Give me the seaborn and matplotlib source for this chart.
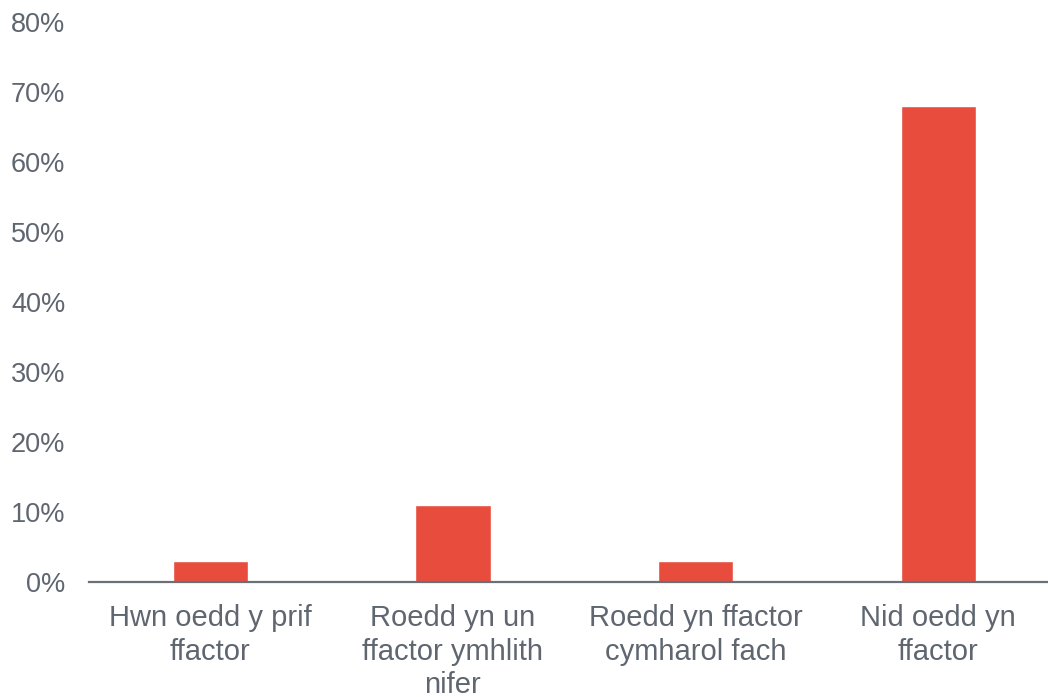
import matplotlib
matplotlib.use("Agg")
import matplotlib.pyplot as plt
import seaborn as sns
import pandas as pd

# Data
categories = [
    "Hwn oedd y prif\nffactor",
    "Roedd yn un\nffactor ymhlith\nnifer",
    "Roedd yn ffactor\ncymharol fach",
    "Nid oedd yn\nffactor",
]
values = [3, 11, 3, 68]
y_ticks = [0, 10, 20, 30, 40, 50, 60, 70, 80]
y_tick_labels = [f"{t}%" for t in y_ticks]

sns.set_style("white")
plt.rcParams['font.family'] = ['Liberation Sans', 'DejaVu Sans']

text_col = "#5f6670"
bar_col = "#e84c3d"

df = pd.DataFrame({"cat": categories, "val": values})

W, H = 1048, 697
fig = plt.figure(figsize=(W / 100, H / 100), dpi=100)
left, right = 89, 1048
top, bottom = 22, 582
ax = fig.add_axes([left / W, 1 - bottom / H, (right - left) / W, (bottom - top) / H])

sns.barplot(data=df, x="cat", y="val", color=bar_col, width=0.31,
            saturation=1, ax=ax)

ax.set_ylim(0, 80)
ax.set_xlim(-0.5, 3.5 - (1059.5 - 1048) / 243)
ax.set_yticks(y_ticks)
ax.set_yticklabels(y_tick_labels, fontsize=19.5, color=text_col)
ax.tick_params(axis="y", length=0, pad=17)
ax.tick_params(axis="x", length=0, pad=16)
for lab in ax.get_xticklabels():
    lab.set_fontsize(21)
    lab.set_color(text_col)
    lab.set_linespacing(1.24)

ax.set_xlabel("")
ax.set_ylabel("")
for s in ["left", "right", "top"]:
    ax.spines[s].set_visible(False)
ax.spines["bottom"].set_color("#6b7077")
ax.spines["bottom"].set_linewidth(1.6)
ax.grid(False)

fig.savefig("out.png", dpi=100)
